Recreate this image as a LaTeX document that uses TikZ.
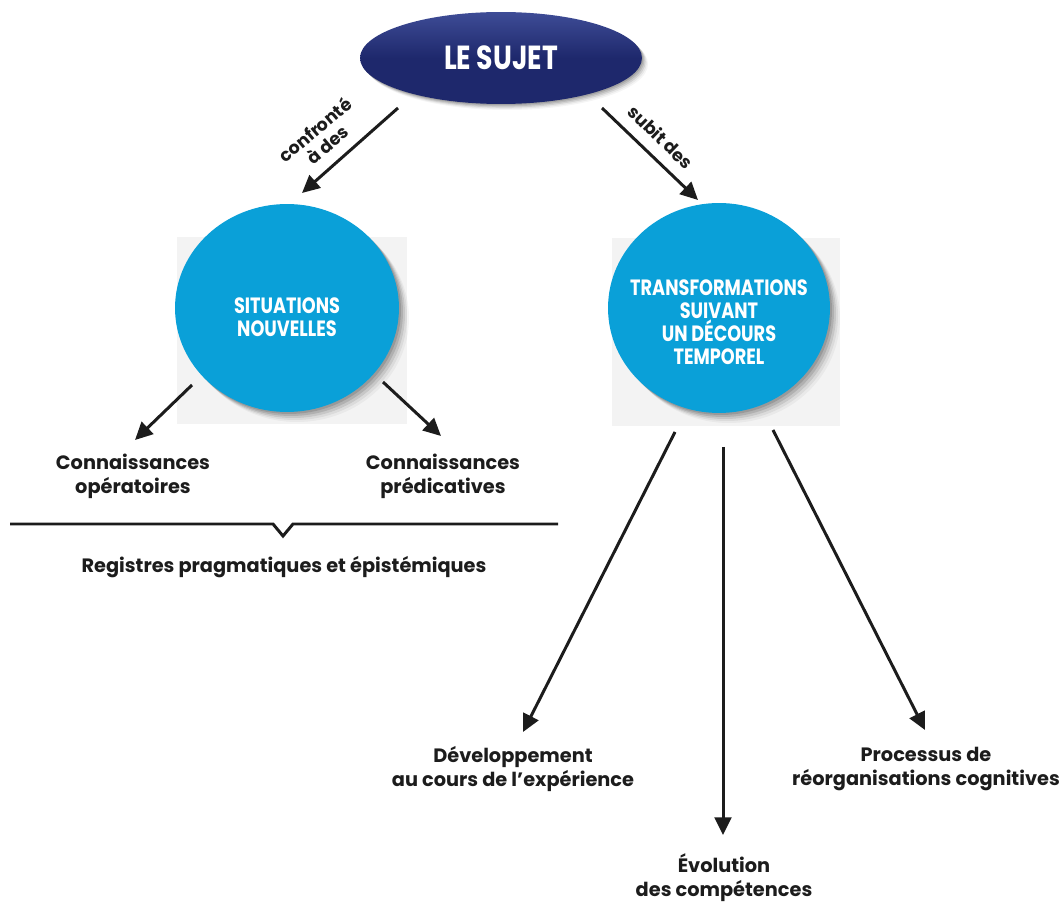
\documentclass[tikz,border=0pt]{standalone}
\usepackage{fontspec}
\setmainfont{Poppins}
\newfontfamily\condfont{Poppins}[FakeStretch=0.8]
\usetikzlibrary{arrows.meta,shapes.geometric}
\definecolor{navy}{RGB}{30,40,108}
\definecolor{navylight}{RGB}{62,76,150}
\definecolor{cyanb}{RGB}{10,160,216}
\definecolor{bggray}{RGB}{243,243,243}
\definecolor{ink}{RGB}{28,28,28}
\tikzset{
  arr/.style={draw=ink,line width=1.7pt,-{Triangle[length=10pt,width=9.5pt]}},
  lbl/.style={text=ink,font=\bfseries\fontsize{11}{13.6}\selectfont,align=center,inner sep=0pt},
  elbl/.style={text=ink,font=\bfseries\fontsize{10}{11}\selectfont,align=center,inner sep=0pt},
  bubble/.style={ellipse,fill=cyanb,inner sep=0pt},
  btext/.style={text=white,align=center,inner sep=0pt,
     font=\condfont\bfseries\fontsize{12.6}{13.2}\selectfont},
}
\begin{document}
\begin{tikzpicture}[x=0.02cm,y=-0.02cm]
\useasboundingbox (0,0) rectangle (1062,905);
% grey backgrounds
\fill[bggray] (177,237) rectangle (407,424);
\fill[bggray] (612,238) rectangle (840,426);
% shadows
\foreach \d/\o in {2/0.12,4/0.11,6/0.09,8/0.06,10/0.04}{
  \fill[black,opacity=\o] (501+\d*0.6,58+\d*0.6) ellipse [x radius=141, y radius=46];
  \fill[black,opacity=\o] (287+\d,308+\d) ellipse [x radius=112, y radius=104];
  \fill[black,opacity=\o] (719+\d,308+\d) ellipse [x radius=111, y radius=105];
}
% nodes
\node[ellipse,minimum width=5.64cm,minimum height=1.84cm,inner sep=0pt,
      top color=navylight,bottom color=navy,middle color=navy,shading angle=0,
      text=white,font=\condfont\bfseries\fontsize{19}{20}\selectfont] (sujet) at (501,58) {LE SUJET};
\node[bubble,minimum width=4.48cm,minimum height=4.16cm] (sit) at (287,308) {};
\node[btext] (sittxt) at (287,317) {SITUATIONS\\NOUVELLES};
\node[bubble,minimum width=4.44cm,minimum height=4.2cm] (tr) at (719,308) {};
\node[btext] (trtxt) at (719,322) {TRANSFORMATIONS\\SUIVANT\\UN DÉCOURS\\TEMPOREL};
% labels
\node[lbl] (conn1) at (133,476) {Connaissances\\opératoires};
\node[lbl] (conn2) at (443,476) {Connaissances\\prédicatives};
\node[lbl] (reg) at (284,567) {Registres pragmatiques et épistémiques};
\node[lbl] (dev) at (513,769) {Développement\\au cours de l’expérience};
\node[lbl] (evo) at (724,878) {Évolution\\des compétences};
\node[lbl] (proc) at (926,769) {Processus de\\réorganisations cognitives};
% edge labels
\node[elbl,rotate=40] (l1) at (321,137) {confronté\\à des};
\node[elbl,rotate=-44] (l2) at (661,137) {subit des};
% arrows
\draw[arr] ([shift={(-103,50)}]sujet.center) -- ([shift={(15,-115)}]sit.center);
\draw[arr] ([shift={(101,50)}]sujet.center) -- ([shift={(-21,-108)}]tr.center);
\draw[arr] ([shift={(-95,77)}]sit.center) -- ([shift={(2,-36)}]conn1.center);
\draw[arr] ([shift={(96,74)}]sit.center) -- ([shift={(-2,-40)}]conn2.center);
\draw[arr] ([shift={(-44,124)}]tr.center) -- ([shift={(10,-37)}]dev.center);
\draw[arr] ([shift={(4,139)}]tr.center) -- ([shift={(-1,-43)}]evo.center);
\draw[arr] ([shift={(54,122)}]tr.center) -- ([shift={(-1,-39)}]proc.center);
% brace
\draw[ink,line width=1.7pt,line join=miter] (10,524) -- (273,524) -- (283,536) -- (293,524) -- (558,524);
\end{tikzpicture}
\end{document}
